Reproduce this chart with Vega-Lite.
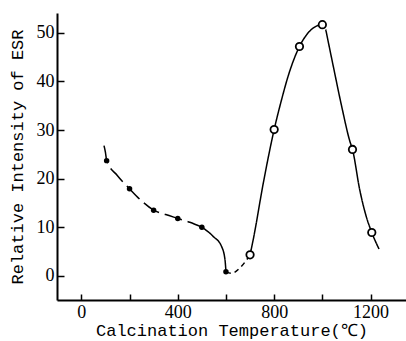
{
  "$schema": "https://vega.github.io/schema/vega-lite/v6.json",
  "width": 349,
  "height": 287,
  "autosize": {"type": "none"},
  "padding": {"left": 57, "top": 13, "right": 0, "bottom": 41},
  "background": "white",
  "config": {
    "view": {"stroke": null},
    "axis": {
      "grid": false,
      "domainColor": "black",
      "domainWidth": 2,
      "tickColor": "black",
      "tickWidth": 1.5,
      "labelColor": "black",
      "titleColor": "black",
      "labelFont": "Liberation Serif",
      "labelFontSize": 18,
      "titleFont": "Liberation Mono",
      "titleFontSize": 17,
      "titleFontWeight": "normal"
    }
  },
  "datasets": {
    "curve": [
      {"temp": 94, "esr": 26.8, "seg": "a"},
      {"temp": 100, "esr": 25.4, "seg": "a"},
      {"temp": 105, "esr": 23.7, "seg": "a"},
      {"temp": 150, "esr": 20.6, "seg": "a"},
      {"temp": 200, "esr": 17.9, "seg": "a"},
      {"temp": 250, "esr": 15.4, "seg": "a"},
      {"temp": 300, "esr": 13.5, "seg": "a"},
      {"temp": 350, "esr": 12.6, "seg": "a"},
      {"temp": 400, "esr": 11.8, "seg": "a"},
      {"temp": 450, "esr": 11.0, "seg": "a"},
      {"temp": 500, "esr": 10.0, "seg": "a"},
      {"temp": 500, "esr": 10.0, "seg": "b"},
      {"temp": 547, "esr": 8.1, "seg": "b"},
      {"temp": 582, "esr": 6.0, "seg": "b"},
      {"temp": 596, "esr": 3.3, "seg": "b"},
      {"temp": 600, "esr": 0.8, "seg": "b"},
      {"temp": 600, "esr": 0.8, "seg": "c"},
      {"temp": 624, "esr": 0.5, "seg": "c"},
      {"temp": 658, "esr": 1.6, "seg": "c"},
      {"temp": 700, "esr": 4.3, "seg": "c"},
      {"temp": 700, "esr": 4.3, "seg": "d"},
      {"temp": 713, "esr": 7.4, "seg": "d"},
      {"temp": 755, "esr": 19.1, "seg": "d"},
      {"temp": 800, "esr": 30.1, "seg": "d"},
      {"temp": 831, "esr": 36.3, "seg": "d"},
      {"temp": 858, "esr": 41.1, "seg": "d"},
      {"temp": 905, "esr": 47.2, "seg": "d"},
      {"temp": 948, "esr": 50.4, "seg": "d"},
      {"temp": 995, "esr": 51.8, "seg": "d"},
      {"temp": 1014, "esr": 50.7, "seg": "e"},
      {"temp": 1045, "esr": 43.2, "seg": "e"},
      {"temp": 1080, "esr": 34.9, "seg": "e"},
      {"temp": 1114, "esr": 27.7, "seg": "e"},
      {"temp": 1125, "esr": 26.0, "seg": "e"},
      {"temp": 1155, "esr": 17.7, "seg": "e"},
      {"temp": 1182, "esr": 12.2, "seg": "e"},
      {"temp": 1205, "esr": 8.9, "seg": "e"},
      {"temp": 1235, "esr": 5.5, "seg": "e"}
    ],
    "pts": [
      {"temp": 105, "esr": 23.7, "kind": "filled"},
      {"temp": 200, "esr": 17.9, "kind": "filled"},
      {"temp": 300, "esr": 13.5, "kind": "filled"},
      {"temp": 400, "esr": 11.8, "kind": "filled"},
      {"temp": 500, "esr": 10.0, "kind": "filled"},
      {"temp": 600, "esr": 0.8, "kind": "filled"},
      {"temp": 700, "esr": 4.3, "kind": "open"},
      {"temp": 800, "esr": 30.1, "kind": "open"},
      {"temp": 905, "esr": 47.2, "kind": "open"},
      {"temp": 1000, "esr": 51.7, "kind": "open"},
      {"temp": 1125, "esr": 26.0, "kind": "open"},
      {"temp": 1205, "esr": 8.9, "kind": "open"}
    ]
  },
  "encoding": {
    "x": {
      "field": "temp",
      "type": "quantitative",
      "scale": {"domain": [-101, 1347], "nice": false, "zero": false},
      "axis": {
        "values": [0, 200, 400, 600, 800, 1000, 1200],
        "labelExpr": "datum.value % 400 === 0 ? datum.label : ''",
        "format": "d",
        "tickSize": -6,
        "labelPadding": 9,
        "title": "Calcination Temperature(℃)",
        "titlePadding": 1
      }
    },
    "y": {
      "field": "esr",
      "type": "quantitative",
      "scale": {"domain": [-5, 54.1], "nice": false, "zero": false},
      "axis": {
        "values": [0, 10, 20, 30, 40, 50],
        "tickSize": -7,
        "labelPadding": 10,
        "title": "Relative Intensity of ESR",
        "titlePadding": 10
      }
    }
  },
  "layer": [
    {
      "data": {"name": "curve"},
      "mark": {"type": "line", "interpolate": "monotone", "color": "black", "strokeWidth": 1.5},
      "encoding": {
        "strokeDash": {
          "field": "seg",
          "type": "nominal",
          "scale": {"domain": ["a", "b", "c", "d", "e"], "range": [[18, 6], [1, 0], [5, 4], [1, 0], [1, 0]]},
          "legend": null
        }
      }
    },
    {
      "data": {"name": "pts"},
      "transform": [{"filter": "datum.kind === 'filled'"}],
      "mark": {"type": "point", "filled": true, "color": "black", "size": 30, "opacity": 1}
    },
    {
      "data": {"name": "pts"},
      "transform": [{"filter": "datum.kind === 'open'"}],
      "mark": {"type": "point", "fill": "white", "stroke": "black", "strokeWidth": 1.8, "size": 55, "opacity": 1, "fillOpacity": 1}
    }
  ]
}
